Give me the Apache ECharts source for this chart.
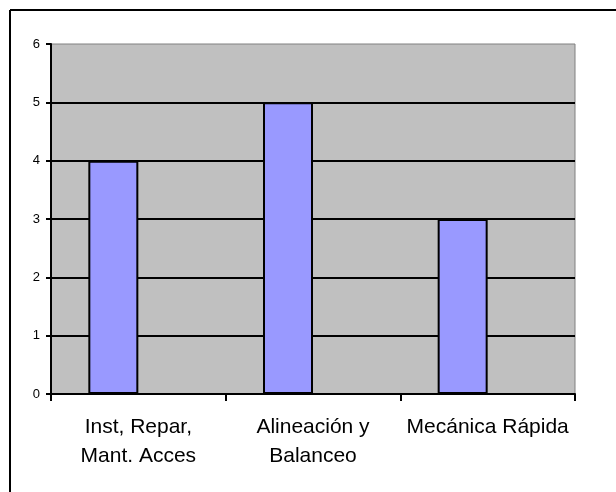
<!DOCTYPE html>
<html>
<head>
<meta charset="utf-8">
<script src="https://cdn.jsdelivr.net/npm/echarts@6/dist/echarts.min.js"></script>
<style>
  html, body { margin: 0; padding: 0; background: #ffffff; }
  #chart { width: 616px; height: 492px; }
</style>
</head>
<body>
<div id="chart"></div>
<script>
// Service categories and counts
const categories = ['Inst, Repar,\nMant. Acces', 'Alineación y\nBalanceo', 'Mecánica Rápida'];
const counts = [4, 5, 3];
// Second (empty) series slot keeps bars to the left of each category centre
const emptySlot = ['-', '-', '-'];
const yTicks = { min: 0, max: 6, step: 1 };

const chart = echarts.init(document.getElementById('chart'), null, { renderer: 'canvas' });

chart.setOption({
  backgroundColor: '#ffffff',
  animation: false,
  textStyle: { fontFamily: 'Liberation Sans, Arial, sans-serif' },
  graphic: [
    { type: 'line', shape: { x1: 10, y1: 10, x2: 616, y2: 10 }, style: { stroke: '#000', lineWidth: 2 } },
    { type: 'line', shape: { x1: 10, y1: 10, x2: 10, y2: 492 }, style: { stroke: '#000', lineWidth: 2 } }
  ],
  grid: {
    left: 51, right: 41, top: 44, bottom: 98,
    show: true,
    backgroundColor: '#C0C0C0',
    borderColor: '#808080',
    borderWidth: 1
  },
  xAxis: {
    type: 'category',
    data: categories,
    axisLine: { show: true, lineStyle: { color: '#000', width: 2 } },
    axisTick: { show: true, alignWithLabel: false, length: 7, lineStyle: { color: '#000', width: 2 } },
    axisLabel: {
      interval: 0,
      color: '#000',
      fontSize: 21,
      lineHeight: 29,
      margin: 19,
      fontFamily: 'Liberation Sans, Arial, sans-serif'
    },
    splitLine: { show: false }
  },
  yAxis: {
    type: 'value',
    min: yTicks.min,
    max: yTicks.max,
    interval: yTicks.step,
    axisLine: { show: true, lineStyle: { color: '#000', width: 2 } },
    axisTick: { show: true, inside: false, length: 5, lineStyle: { color: '#000', width: 2 } },
    axisLabel: {
      color: '#000',
      fontSize: 13,
      margin: 11,
      fontFamily: 'Liberation Sans, Arial, sans-serif'
    },
    splitLine: {
      show: true,
      showMinLine: false,
      showMaxLine: false,
      lineStyle: { color: '#000', width: 2 }
    }
  },
  series: [
    {
      type: 'bar',
      data: counts,
      barWidth: 50,
      barGap: '0%',
      itemStyle: { color: '#9999FF', borderColor: '#000', borderWidth: 2 },
      z: 3
    },
    {
      type: 'bar',
      data: emptySlot,
      barWidth: 50,
      barGap: '0%',
      itemStyle: { color: '#9999FF', borderColor: '#000', borderWidth: 2 }
    }
  ]
});
</script>
</body>
</html>
